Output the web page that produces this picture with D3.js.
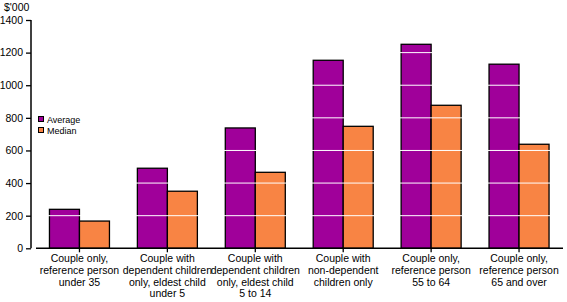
<!DOCTYPE html>
<html>
<head>
<meta charset="utf-8">
<script src="https://cdn.jsdelivr.net/npm/d3@7"></script>
<style>
  body { margin: 0; background: #fff; }
  svg text { font-family: 'Liberation Sans', Arial, sans-serif; fill: #000; }
</style>
</head>
<body>
<svg width="567" height="302"></svg>
<script>
const categories = [
  ['Couple only,', 'reference person', 'under 35'],
  ['Couple with', 'dependent children', 'only, eldest child', 'under 5'],
  ['Couple with', 'dependent children', 'only, eldest child', '5 to 14'],
  ['Couple with', 'non-dependent', 'children only'],
  ['Couple only,', 'reference person', '55 to 64'],
  ['Couple only,', 'reference person', '65 and over']
];
const average = [239, 491, 738, 1153, 1251, 1129];
const median = [167, 350, 466, 748, 877, 638];
const yTicks = [0, 200, 400, 600, 800, 1000, 1200, 1400];
const seriesNames = ['Average', 'Median'];
const colors = ['#a0009a', '#f88444'];

const svg = d3.select('svg');

const xScale = d3.scaleBand()
  .domain(d3.range(categories.length))
  .range([35.5, 563]);

const yScale = d3.scaleLinear()
  .domain([0, 1400])
  .range([248.3, 20]);

const barW = 30;

// y axis
const yAxis = d3.axisLeft(yScale)
  .tickValues(yTicks)
  .tickSize(5)
  .tickPadding(3)
  .tickFormat(d3.format('d'));

const yg = svg.append('g')
  .attr('transform', 'translate(31,0)')
  .call(yAxis);
yg.select('.domain').attr('stroke', '#000').attr('stroke-width', 1.5)
  .attr('d', `M0,${yScale(1400)}V${yScale(0)}`);
yg.selectAll('.tick line').attr('stroke', '#000').attr('stroke-width', 1.3);
yg.selectAll('.tick text').style('font-size', '10.5px');

svg.append('text')
  .attr('x', 4).attr('y', 11)
  .style('font-size', '10.5px')
  .text("$'000");

// bars
const data = categories.map((c, i) => ({ i, values: [average[i], median[i]] }));
const groups = svg.append('g').selectAll('g')
  .data(data)
  .join('g')
  .attr('transform', d => `translate(${xScale(d.i) + xScale.bandwidth() / 2},0)`);

groups.selectAll('rect')
  .data(d => d.values.map((v, k) => ({ v, k })))
  .join('rect')
  .attr('x', d => d.k === 0 ? -barW : 0)
  .attr('y', d => yScale(d.v))
  .attr('width', barW)
  .attr('height', d => yScale(0) - yScale(d.v))
  .attr('fill', d => colors[d.k])
  .attr('stroke', '#000')
  .attr('stroke-width', 1.3);

// white gridlines over bars
const grid = svg.append('g');
yTicks.filter(t => t > 0).forEach(t => {
  grid.append('line')
    .attr('x1', 36).attr('x2', 563)
    .attr('y1', yScale(t)).attr('y2', yScale(t))
    .attr('stroke', '#fff')
    .attr('stroke-width', 1);
});

// x axis
const xAxis = d3.axisBottom(xScale)
  .tickSize(4)
  .tickFormat('');
const xg = svg.append('g')
  .attr('transform', `translate(0,${yScale(0)})`)
  .call(xAxis);
xg.select('.domain').attr('stroke', '#000').attr('stroke-width', 1.5)
  .attr('d', `M36,0H563`);
xg.selectAll('.tick line').attr('stroke', '#000').attr('stroke-width', 1.3);

// category labels
const labels = svg.append('g');
categories.forEach((lines, i) => {
  const t = labels.append('text')
    .attr('text-anchor', 'middle')
    .style('font-size', '10.5px');
  lines.forEach((ln, j) => {
    t.append('tspan')
      .attr('x', xScale(i) + xScale.bandwidth() / 2)
      .attr('y', 262 + j * 11.8)
      .text(ln);
  });
});

// legend
const legend = svg.append('g');
seriesNames.forEach((name, k) => {
  const y = 119 + k * 11;
  legend.append('rect')
    .attr('x', 38.5).attr('y', y - 2.5)
    .attr('width', 5).attr('height', 5)
    .attr('fill', colors[k])
    .attr('stroke', '#000')
    .attr('stroke-width', 1);
  legend.append('text')
    .attr('x', 47).attr('y', y + 3.5)
    .style('font-size', '9px')
    .text(name);
});
</script>
</body>
</html>
